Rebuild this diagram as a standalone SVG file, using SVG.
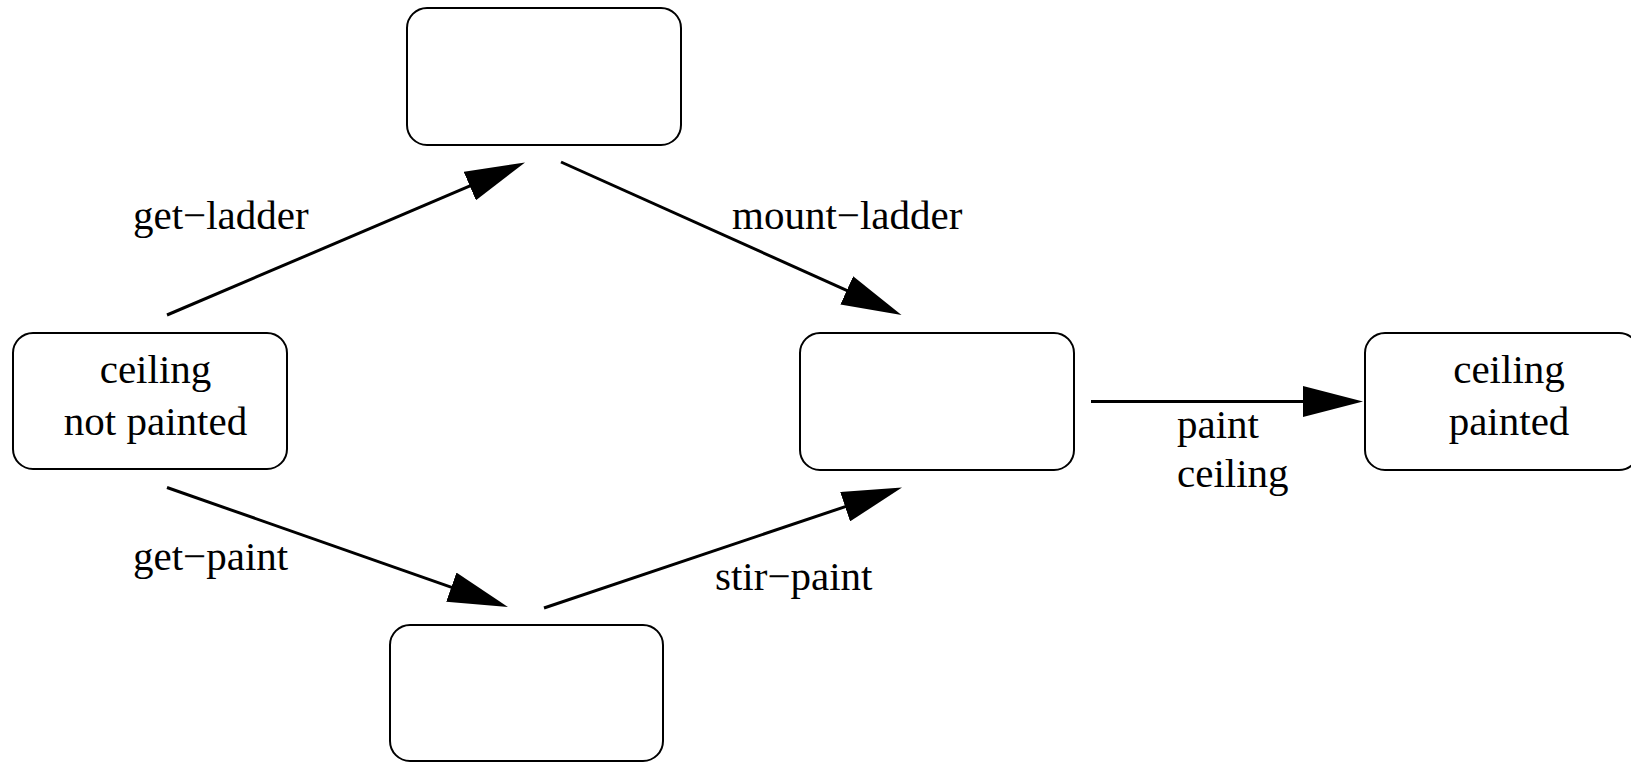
<svg xmlns="http://www.w3.org/2000/svg" width="1631" height="762" viewBox="0 0 1631 762">
  <style>
    .state { fill: #ffffff; stroke: #000000; stroke-width: 2; }
    .edge { fill: none; stroke: #000000; stroke-width: 3; marker-end: url(#head); }
  </style>
  <defs>
    <!-- filled triangular arrowhead, 60 long and 31 wide; the line stops 40 short of the tip -->
    <marker id="head" markerUnits="userSpaceOnUse" viewBox="0 0 60 31" markerWidth="60" markerHeight="31" refX="20" refY="15.5" orient="auto">
      <path d="M0,0 L60,15.5 L0,31 Z" fill="#000000"/>
    </marker>
  </defs>

  <rect width="1631" height="762" fill="#ffffff"/>

  <!-- transitions -->
  <g id="connectors">
    <path class="edge" d="M167,315 L488.2,178.2"/>
    <path class="edge" d="M561,162 L865,298.6"/>
    <path class="edge" d="M167,487.5 L470.2,593.8"/>
    <path class="edge" d="M544,608 L864.1,500.3"/>
    <path class="edge" d="M1091,401.5 L1323,401.5"/>
    <g font-family="Liberation Serif, serif" font-size="41" fill="#000000">
      <text x="133" y="229">get−ladder</text>
      <text x="732" y="229">mount−ladder</text>
      <text x="133" y="570">get−paint</text>
      <text x="715" y="590">stir−paint</text>
      <text x="1177" y="438">paint</text>
      <text x="1177" y="487">ceiling</text>
    </g>
  </g>

  <!-- states -->
  <g id="ceiling-not-painted">
    <rect class="state" x="13" y="333" width="274" height="136" rx="20" ry="20"/>
    <g font-family="Liberation Serif, serif" font-size="41" fill="#000000" text-anchor="middle">
      <text x="155.5" y="383">ceiling</text>
      <text x="155.5" y="435">not painted</text>
    </g>
  </g>
  <g id="have-ladder">
    <rect class="state" x="407" y="8" width="274" height="137" rx="20" ry="20"/>
  </g>
  <g id="ready-to-paint">
    <rect class="state" x="800" y="333" width="274" height="137" rx="20" ry="20"/>
  </g>
  <g id="ceiling-painted">
    <rect class="state" x="1365" y="333" width="274" height="137" rx="20" ry="20"/>
    <g font-family="Liberation Serif, serif" font-size="41" fill="#000000" text-anchor="middle">
      <text x="1509" y="383">ceiling</text>
      <text x="1509" y="435">painted</text>
    </g>
  </g>
  <g id="have-paint">
    <rect class="state" x="390" y="625" width="273" height="136" rx="20" ry="20"/>
  </g>
</svg>
